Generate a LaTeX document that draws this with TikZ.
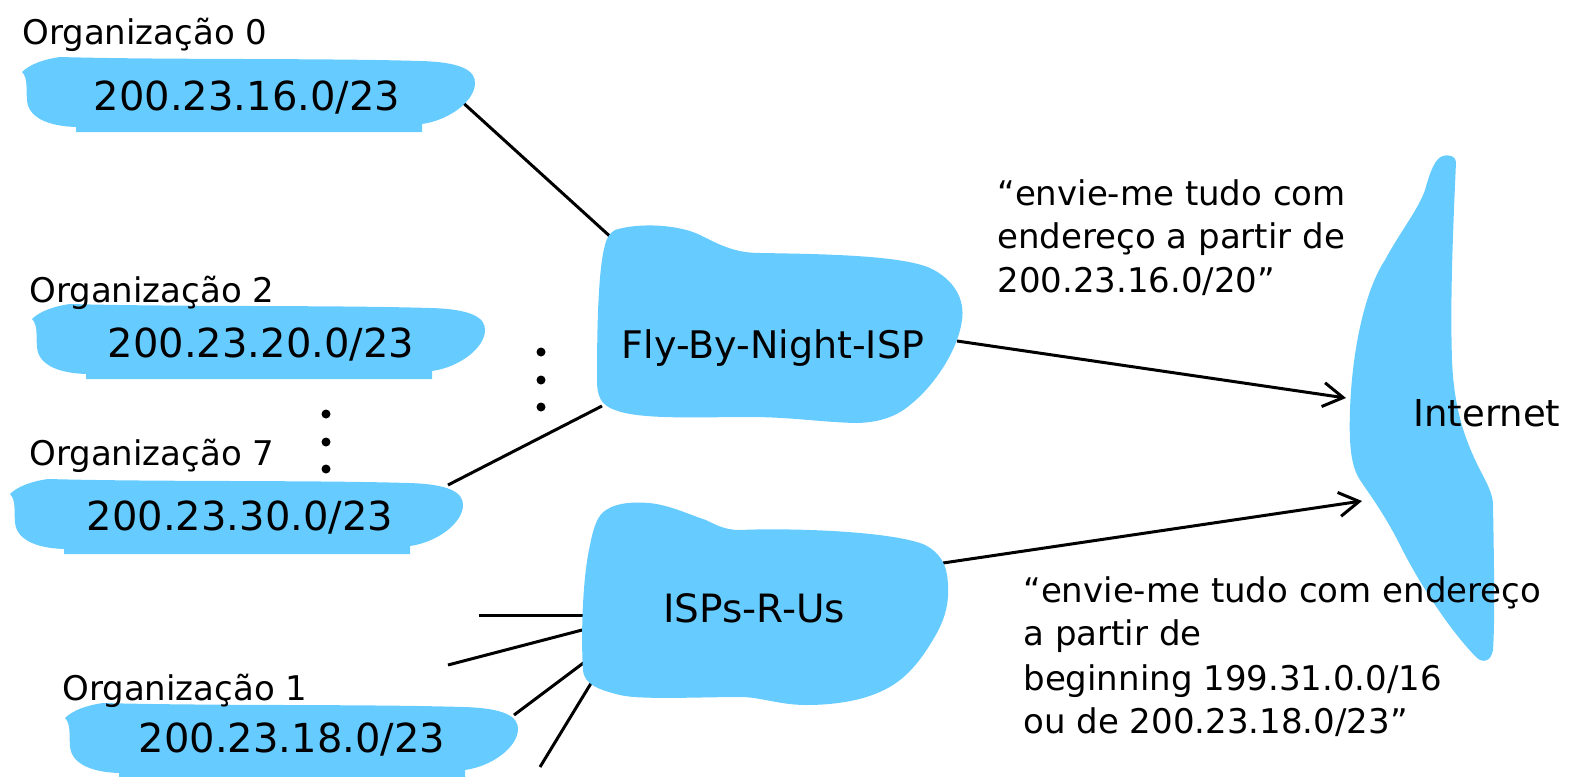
\documentclass[tikz,border=0pt]{standalone}
\usepackage{fontspec}
\setmainfont{DejaVu Sans}
\usetikzlibrary{arrows.meta}
\definecolor{cloud}{RGB}{102,204,255}
\begin{document}
\begin{tikzpicture}[x=0.5pt,y=-0.5pt,
  cloudfill/.style={fill=cloud},
  link/.style={line width=1.5pt,black},
  adv/.style={link,-{Straight Barb[length=10pt,width=12pt]}},
  lbl/.style={font=\fontsize{17}{22}\selectfont,inner sep=0pt,anchor=base west},
  ctr/.style={font=\fontsize{19}{22}\selectfont,inner sep=0pt,anchor=base},
  addr/.style={font=\fontsize{20}{24}\selectfont,inner sep=0pt},
  blackdot/.style={circle,fill=black,inner sep=0pt,minimum size=4.5pt},
  orgblob/.pic={
    \fill[cloudfill] (2,16) .. controls (10,8) and (25,3) .. (40,1)
      .. controls (150,4) and (300,2) .. (400,5)
      .. controls (440,6) and (456,14) .. (455,28)
      .. controls (454,45) and (430,64) .. (402,68)
      -- (402,76) -- (56,76) -- (56,71)
      .. controls (25,70) and (8,60) .. (7,44)
      .. controls (6,32) and (8,22) .. (2,16) -- cycle;
  }]
\useasboundingbox (0,0) rectangle (1573,776);

% Internet cloud
\fill[cloudfill] (1443,156) .. controls (1450,154) and (1456,157) .. (1456,162)
  .. controls (1453,230) and (1450,300) .. (1452,360)
  .. controls (1454,410) and (1465,440) .. (1480,470)
  .. controls (1488,485) and (1493,495) .. (1493,505)
  .. controls (1494,560) and (1495,620) .. (1493,650)
  .. controls (1491,662) and (1482,664) .. (1475,656)
  .. controls (1450,630) and (1420,585) .. (1400,545)
  .. controls (1385,515) and (1370,495) .. (1360,480)
  .. controls (1350,465) and (1349,440) .. (1350,410)
  .. controls (1352,350) and (1365,290) .. (1385,260)
  .. controls (1400,232) and (1418,210) .. (1425,190)
  .. controls (1430,172) and (1435,158) .. (1443,156) -- cycle;

% connector end points
\coordinate (o0e) at (460,100);
\coordinate (f0) at (614,240);
\coordinate (o7e) at (448,485);
\coordinate (f1) at (602,406);
\coordinate (fe) at (957,341);
\coordinate (ia) at (1346,398);
\coordinate (ie) at (943,563);
\coordinate (ib) at (1362,501);
\coordinate (s1a) at (479,615);
\coordinate (s1b) at (586,615);
\coordinate (s2a) at (448,665);
\coordinate (s2b) at (586,629);
\coordinate (o1e) at (514,715);
\coordinate (s3b) at (586,661);
\coordinate (s4a) at (540,767);
\coordinate (s4b) at (593,680);

\draw[link] (o0e) -- (f0);
\draw[link] (o7e) -- (f1);
\draw[link] (s1a) -- (s1b);
\draw[link] (s2a) -- (s2b);
\draw[link] (o1e) -- (s3b);
\draw[link] (s4a) -- (s4b);
\draw[adv] (fe) -- (ia);
\draw[adv] (ie) -- (ib);

% organisation clouds
\pic at (20,56) {orgblob};
\pic at (30,303) {orgblob};
\pic at (8,478) {orgblob};
\pic at (63,702) {orgblob};

% Fly-By-Night-ISP cloud
\fill[cloudfill] (615,230) .. controls (640,222) and (680,225) .. (700,235)
  .. controls (720,245) and (735,253) .. (760,253)
  .. controls (820,254) and (900,255) .. (930,268)
  .. controls (955,280) and (965,300) .. (962,320)
  .. controls (958,350) and (935,385) .. (910,405)
  .. controls (895,418) and (875,423) .. (855,423)
  .. controls (820,422) and (790,417) .. (750,417)
  .. controls (700,417) and (640,420) .. (615,410)
  .. controls (600,405) and (597,395) .. (597,380)
  .. controls (597,330) and (598,270) .. (605,245)
  .. controls (607,237) and (610,233) .. (615,230) -- cycle;

% ISPs-R-Us cloud
\fill[cloudfill] (606,510) .. controls (618,502) and (635,502) .. (649,503)
  .. controls (670,505) and (690,515) .. (706,520)
  .. controls (716,525) and (725,530) .. (740,530)
  .. controls (780,528) and (880,530) .. (920,543)
  .. controls (935,548) and (945,560) .. (947,575)
  .. controls (951,600) and (945,620) .. (934,638)
  .. controls (920,662) and (905,680) .. (884,690)
  .. controls (860,702) and (830,705) .. (806,705)
  .. controls (780,705) and (760,697) .. (741,697)
  .. controls (700,697) and (640,700) .. (620,695)
  .. controls (600,690) and (584,685) .. (583,670)
  .. controls (581,640) and (582,580) .. (590,545)
  .. controls (594,525) and (598,515) .. (606,510) -- cycle;

% dots
\node[blackdot] (d1) at (541,352) {};
\node[blackdot] (d2) at (541,380) {};
\node[blackdot] (d3) at (541,407) {};
\node[blackdot] (d4) at (326,414) {};
\node[blackdot] (d5) at (326,442) {};
\node[blackdot] (d6) at (326,469) {};

% labels
\node[lbl] (lo0) at (22,44) {Organização 0};
\node[lbl] (lo2) at (29,302) {Organização 2};
\node[lbl] (lo7) at (29,465) {Organização 7};
\node[lbl] (lo1) at (62,700) {Organização 1};

\node[addr] (a0) at (247,98) {200.23.16.0/23};
\node[addr] (a2) at (261,345) {200.23.20.0/23};
\node[addr] (a7) at (240,518) {200.23.30.0/23};
\node[addr] (a1) at (292,740) {200.23.18.0/23};

\node[ctr] (fly) at (773,358) {Fly-By-Night-ISP};
\node[ctr,font=\fontsize{19.5}{22}\selectfont] (isp) at (754,622) {ISPs-R-Us};
\node[lbl,font=\fontsize{18.5}{22}\selectfont] (inet) at (1413,426) {Internet};

\node[lbl] (m1a) at (997,205) {“envie-me tudo com};
\node[lbl] (m1b) at (997,248) {endereço a partir de};
\node[lbl] (m1c) at (997,292) {200.23.16.0/20”};

\node[lbl] (m2a) at (1023,602) {“envie-me tudo com endereço};
\node[lbl] (m2b) at (1023,645) {a partir de};
\node[lbl] (m2c) at (1023,690) {beginning 199.31.0.0/16};
\node[lbl] (m2d) at (1023,733) {ou de 200.23.18.0/23”};
\end{tikzpicture}
\end{document}
